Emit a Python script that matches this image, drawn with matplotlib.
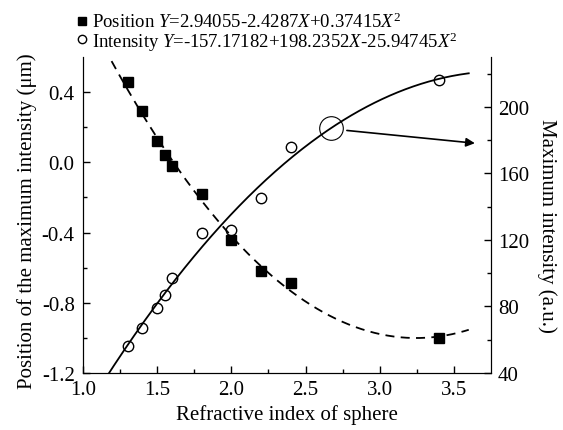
import matplotlib
import matplotlib.pyplot as plt
import numpy as np
from matplotlib.lines import Line2D
from matplotlib.ticker import FormatStrFormatter

matplotlib.use("Agg")

plt.rcParams["font.family"] = ["Liberation Serif", "DejaVu Serif"]
plt.rcParams["mathtext.fontset"] = "custom"
plt.rcParams["mathtext.rm"] = "Liberation Serif"
plt.rcParams["mathtext.it"] = "Liberation Serif:italic"
plt.rcParams["axes.unicode_minus"] = False

# measured points
n_pos = [1.3, 1.4, 1.5, 1.55, 1.6, 1.8, 2.0, 2.2, 2.4, 3.4]
position = [0.46, 0.29, 0.12, 0.04, -0.02, -0.18, -0.44, -0.62, -0.69, -1.0]
n_int = [1.3, 1.4, 1.5, 1.55, 1.6, 1.8, 2.0, 2.2, 2.4, 3.4]
intensity = [56, 67, 79, 87, 97, 124, 126, 145, 176, 216]

# fit coefficients as given in the legend
pos_fit = [2.94055, -2.4287, 0.37415]
int_fit = [-157.17182, 198.2352, -25.94745]

pos_label = "Position $Y$=2.94055-2.4287$X$+0.37415$X^2$"
int_label = "Intensity $Y$=-157.17182+198.2352$X$-25.94745$X^2$"

W, H = 563, 431
fig = plt.figure(figsize=(W / 100, H / 100), dpi=100)
ax = fig.add_axes([83 / W, 1 - 374 / H, 408 / W, 316 / H])
ax2 = ax.twinx()

# fitted curves
xf = np.linspace(1.0, 3.6, 300)
yp = pos_fit[0] + pos_fit[1] * xf + pos_fit[2] * xf**2
yi = int_fit[0] + int_fit[1] * xf + int_fit[2] * xf**2
ax.plot(xf, yp, color="k", lw=1.3, ls=(0, (5, 3.5)))
ax2.plot(xf, yi, color="k", lw=1.3)

ax.plot(n_pos, position, "s", color="k", ms=6.5, ls="none")
ax2.plot(n_int, intensity, "o", mfc="none", mec="k", mew=1.0, ms=7.5, ls="none")

# highlighted point and arrow
ax2.plot(2.67, 187.5, "o", mfc="none", mec="k", mew=0.8, ms=17)
ax2.annotate(
    "", xy=(3.66, 178), xytext=(2.76, 186),
    arrowprops=dict(arrowstyle="-|>", color="k", lw=1.2, mutation_scale=13),
)

ax.set_xlim(1.0, 3.75)
ax.set_ylim(-1.2, 0.6)
ax2.set_ylim(40, 230)

ax.set_xticks([1.0, 1.5, 2.0, 2.5, 3.0, 3.5])
ax.set_xticks(np.arange(1.25, 3.75, 0.5), minor=True)
ax.set_yticks([-1.2, -0.8, -0.4, 0.0, 0.4])
ax.set_yticks([-1.0, -0.6, -0.2, 0.2], minor=True)
ax2.set_yticks([40, 80, 120, 160, 200])
ax2.set_yticks([60, 100, 140, 180, 220], minor=True)
ax.xaxis.set_major_formatter(FormatStrFormatter("%.1f"))
ax.yaxis.set_major_formatter(FormatStrFormatter("%.1f"))

for a in (ax, ax2):
    a.spines["top"].set_visible(False)
    a.tick_params(which="both", direction="in", labelsize=15, width=1)
    a.tick_params(which="major", length=5)
    a.tick_params(which="minor", length=3)
ax.tick_params(axis="x", pad=5)
ax.tick_params(axis="y", pad=6)
ax2.tick_params(axis="y", pad=5)
ax.tick_params(axis="y", which="both", right=False)

ax.set_xlabel("Refractive index of sphere", fontsize=15, va="center")
ax.xaxis.set_label_coords(0.499, -0.13)
ax.set_ylabel("Position of the maximum intensity (\u03bcm)", fontsize=15, va="center")
ax.yaxis.set_label_coords(-0.137, 0.483)
ax2.set_ylabel("Maximum intensity (a.u.)", fontsize=15, rotation=270,
               va="center", ha="center")
ax2.yaxis.set_label_coords(1.137, 0.47)

# legend drawn by hand above the axes
fig.add_artist(Line2D([82 / W], [1 - 21.5 / H], transform=fig.transFigure,
                      marker="s", color="k", ms=6, ls="none"))
fig.add_artist(Line2D([82 / W], [1 - 39.5 / H], transform=fig.transFigure,
                      marker="o", mfc="none", mec="k", ms=6, ls="none"))
fig.text(92 / W, 1 - 27.5 / H, pos_label, fontsize=13.5, va="baseline")
fig.text(92 / W, 1 - 47.5 / H, int_label, fontsize=13.5, va="baseline")

fig.savefig("out.png", dpi=100)
